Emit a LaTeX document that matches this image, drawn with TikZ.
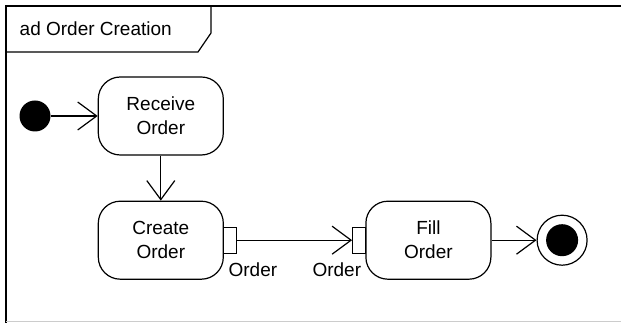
\documentclass[tikz,border=0pt]{standalone}
\usepackage{fontspec}
\setmainfont{Liberation Sans}
\usepackage{tikz}
\usetikzlibrary{arrows.meta, positioning}

\begin{document}
\begin{tikzpicture}[
                x=1pt, y=1pt,
                node distance=45pt,
                font=\fontsize{19}{24}\selectfont,
                actbox/.style={rectangle, draw, line width=1.2pt, rounded corners=22pt, minimum width=125pt, minimum height=78pt, align=center},
                pinbox/.style={rectangle, draw, fill=white, line width=1.2pt, minimum width=13pt, minimum height=26pt, inner sep=0pt},
                pinlabel/.style={inner sep=0pt, outer sep=0pt},
                startnode/.style={circle, fill=black, minimum size=31pt, inner sep=0pt},
                endnode/.style={circle, draw, line width=1.2pt, minimum size=50pt, inner sep=0pt},
                flow/.style={line width=1.2pt, line join=round, -{Straight Barb[length=19pt, width=28pt]}}
            ]
                \useasboundingbox (0,0) rectangle (621,323);

                % Frame and title tab
                \draw[line width=1.5pt] (6,0) -- (6,317) -- (621,317);
                \draw[gray!40, line width=1pt] (6,1.5) -- (621,1.5);
                \draw[line width=1.2pt] (6,271) -- (198,271) -- (211,290) -- (211,317);
                \node[anchor=base west, inner sep=0pt] (title) at (19.5,287) {ad Order Creation};

                % Activity nodes
                \node[startnode] (start) at (35,207) {};
                \node[actbox, right=47pt of start] (receive) {Receive\\Order};
                \node[actbox, below=of receive] (create) {Create\\Order};
                \node[pinbox, right=-1pt of create] (outpin) {};
                \node[pinbox, right=115pt of outpin] (inpin) {};
                \node[actbox, right=-1pt of inpin] (fill) {Fill\\Order};
                \node[endnode, right=45pt of fill] (final) {};
                \node[circle, fill=black, minimum size=32pt, inner sep=0pt] (finaldot) at (final) {};

                % Pin labels
                \node[pinlabel, below right=8.5pt and -8.5pt of outpin] (outlabel) {Order};
                \node[pinlabel, below left=8.5pt and -9pt of inpin] (inlabel) {Order};

                % Flows
                \draw[flow] (start) -- (receive);
                \draw[flow] (receive) -- (create);
                \draw[flow] (outpin) -- (inpin);
                \draw[flow] (fill) -- (final);
            \end{tikzpicture}
\end{document}
